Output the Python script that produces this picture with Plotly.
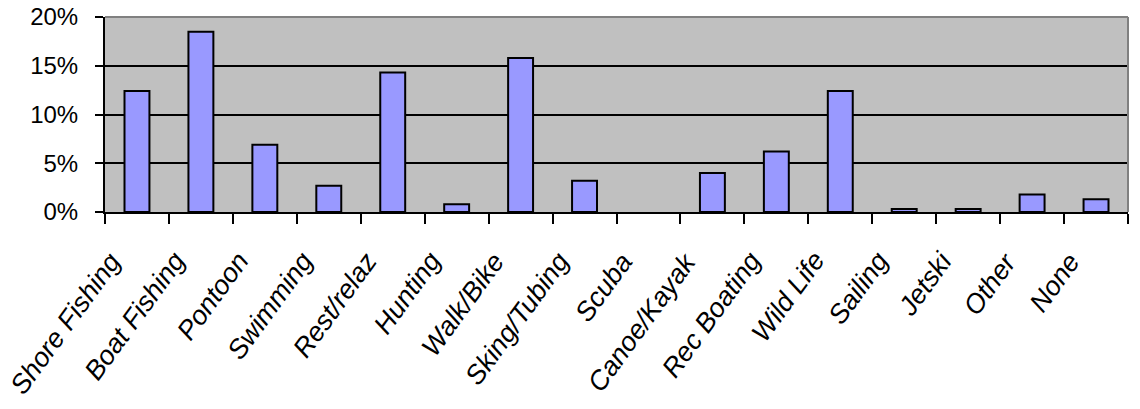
import plotly.graph_objects as go

categories = ["Shore Fishing", "Boat Fishing", "Pontoon", "Swimming", "Rest/relaz",
              "Hunting", "Walk/Bike", "Sking/Tubing", "Scuba", "Canoe/Kayak",
              "Rec Boating", "Wild Life", "Sailing", "Jetski", "Other", "None"]
values = [0.124, 0.185, 0.069, 0.027, 0.143, 0.008, 0.158, 0.032, 0.0,
          0.040, 0.062, 0.124, 0.003, 0.003, 0.018, 0.013]
y_ticks = [0, 0.05, 0.10, 0.15, 0.20]
y_tick_labels = ["0%", "5%", "10%", "15%", "20%"]

FONT = "Liberation Sans, Arial, sans-serif"

fig = go.Figure(go.Bar(
    x=categories, y=values,
    marker=dict(color="#9999FF",
                line=dict(color="black", width=[0 if v == 0 else 2 for v in values])),
    hoverinfo="x+y",
))

# category labels as rotated annotations tied to the category axis
annotations = [
    dict(x=c, y=0, xref="x", yref="paper", text=c, showarrow=False,
         xanchor="right", yanchor="top", textangle=-54,
         xshift=-7, yshift=-32,
         font=dict(family=FONT, size=27, color="black", style="italic"))
    for c in categories
]

fig.update_layout(
    width=1140, height=409,
    margin=dict(l=105, r=12, t=16.5, b=197),
    paper_bgcolor="white", plot_bgcolor="#C0C0C0",
    bargap=0.61, showlegend=False,
    font=dict(family=FONT, color="black"),
    annotations=annotations,
    shapes=[
        dict(type="line", xref="paper", yref="paper", x0=0, x1=1, y0=1, y1=1,
             line=dict(color="#808080", width=2), layer="above"),
        dict(type="line", xref="paper", yref="paper", x0=1, x1=1, y0=0, y1=1,
             line=dict(color="#808080", width=2), layer="above"),
    ],
)
fig.update_xaxes(
    type="category", range=[-0.5, len(categories) - 0.5],
    tickson="boundaries", ticks="outside", ticklen=10,
    tickwidth=2, tickcolor="black", showline=True, linecolor="black", linewidth=2,
    showgrid=False, showticklabels=False, automargin=False,
)
fig.update_yaxes(
    range=[0, 0.2], tickvals=y_ticks, ticktext=y_tick_labels,
    ticks="outside", ticklen=8, tickwidth=2, tickcolor="black",
    showline=True, linecolor="black", linewidth=2, automargin=False,
    showgrid=True, gridcolor="black", gridwidth=2, zeroline=False,
    tickfont=dict(family=FONT, size=24),
    ticklabelstandoff=12, ticklabeloverflow="allow",
)

fig.write_html("out.html", config={"displayModeBar": False},
               post_script="document.body.style.margin='0';document.body.style.overflow='hidden';")
